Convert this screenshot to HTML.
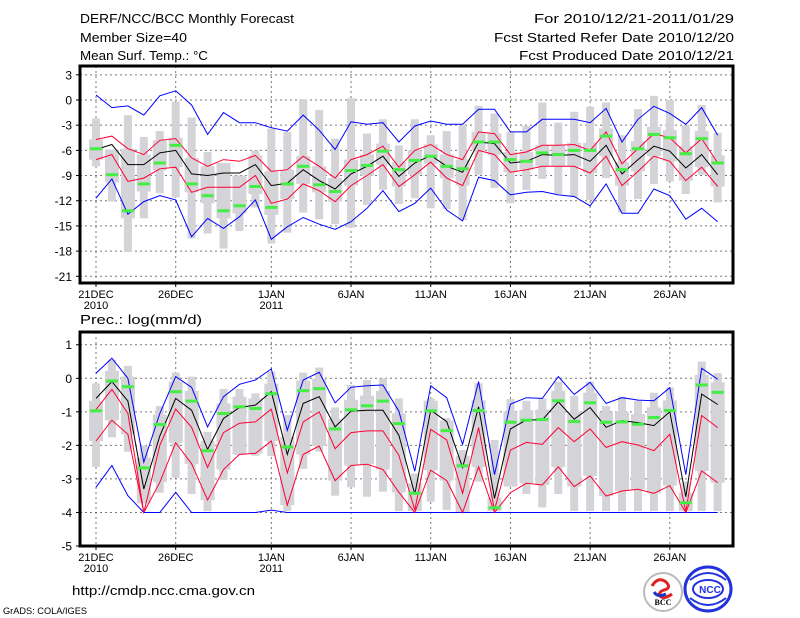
<!DOCTYPE html>
<html><head><meta charset="utf-8"><style>
body{margin:0;background:#fff;}
svg{display:block;font-family:"Liberation Sans",sans-serif;}
</style></head><body>
<svg id="chart" width="800" height="618" viewBox="0 0 800 618" xmlns="http://www.w3.org/2000/svg">
<g font-size="13" fill="#000">
<text x="80" y="23" textLength="214" lengthAdjust="spacingAndGlyphs">DERF/NCC/BCC Monthly Forecast</text>
<text x="80" y="42" textLength="107" lengthAdjust="spacingAndGlyphs">Member Size=40</text>
<text x="80" y="60" textLength="128" lengthAdjust="spacingAndGlyphs">Mean Surf. Temp.: °C</text>
<text x="734" y="23" text-anchor="end" textLength="200" lengthAdjust="spacingAndGlyphs">For 2010/12/21-2011/01/29</text>
<text x="734" y="42" text-anchor="end" textLength="240" lengthAdjust="spacingAndGlyphs">Fcst Started Refer Date 2010/12/20</text>
<text x="734" y="60" text-anchor="end" textLength="215" lengthAdjust="spacingAndGlyphs">Fcst Produced Date 2010/12/21</text>
<text x="80" y="324" textLength="122" lengthAdjust="spacingAndGlyphs">Prec.: log(mm/d)</text>
<text x="72" y="595" textLength="183" lengthAdjust="spacingAndGlyphs">http://cmdp.ncc.cma.gov.cn</text>
<text x="3" y="614" font-size="9" textLength="84" lengthAdjust="spacingAndGlyphs">GrADS: COLA/IGES</text>
</g>
<g>
<circle cx="663" cy="592" r="19" fill="#fff" stroke="#bbb" stroke-width="2"/>
<path d="M652 586 q6 -10 14 -4 q6 6 -2 8 q-6 2 -4 6 q4 4 12 -2" fill="none" stroke="#d22" stroke-width="3"/>
<path d="M654 592 q4 6 12 2" fill="none" stroke="#23b" stroke-width="3"/>
<text x="663" y="605" font-size="8" text-anchor="middle" font-family="Liberation Serif,serif" font-weight="bold">BCC</text>
</g>
<g>
<ellipse cx="708" cy="589" rx="23" ry="22" fill="#fff" stroke="#2233dd" stroke-width="3"/>
<ellipse cx="708" cy="589" rx="15" ry="9" fill="none" stroke="#2233dd" stroke-width="2"/>
<path d="M690 580 q18 -14 36 0 M690 598 q18 14 36 0" fill="none" stroke="#2233dd" stroke-width="2"/>
<text x="710" y="593" font-size="10" text-anchor="middle" fill="#2233dd" font-weight="bold">NCC</text>
</g>
<g id="p1"></g>
<g id="p2"></g>
</svg>
<script>
const dayLabels=["21DEC","26DEC","1JAN","6JAN","11JAN","16JAN","21JAN","26JAN"];
const dayLabelIdx=[0,5,11,16,21,26,31,36];
const yearLabels=["2010","2011"];
const yearLabelIdx=[0,11];
const tTicks=[3,0,-3,-6,-9,-12,-15,-18,-21];
const pTicks=[1,0,-1,-2,-3,-4,-5];
// temperature panel
const tMax=[0.6,-0.9,-0.7,-1.8,0.5,1.1,-0.6,-4.1,-1.5,-2.7,-2.7,-3.3,-3.7,-1.8,-3.6,-5.9,-2.6,-2.9,-2.7,-5.0,-3.1,-2.5,-2.9,-2.9,-1.1,-1.1,-3.8,-3.8,-2.3,-2.3,-2.3,-2.7,-1.0,-5.0,-2.3,-0.75,-1.6,-2.9,-0.9,-4.2];
const tRedHi=[-4.7,-4.3,-5.8,-6.5,-4.8,-4.6,-6.9,-7.9,-7.1,-7.3,-6.6,-8.5,-8.3,-6.7,-7.9,-9.3,-7.1,-6.5,-5.5,-8.0,-6.0,-5.3,-6.5,-7.1,-3.8,-4.0,-6.5,-6.2,-5.4,-5.4,-5.3,-6.0,-3.8,-7.6,-5.8,-4.0,-4.5,-6.3,-4.6,-7.5];
const tMean=[-5.9,-5.3,-7.7,-7.7,-6.3,-6.0,-8.8,-9.0,-8.7,-8.7,-7.7,-10.2,-9.9,-8.3,-9.6,-10.6,-8.8,-7.9,-6.7,-9.1,-7.5,-6.6,-7.9,-8.6,-5.0,-5.2,-7.5,-7.3,-6.5,-6.6,-6.5,-7.3,-5.4,-8.8,-7.1,-5.5,-6.1,-8.1,-6.5,-8.9];
const tRedLo=[-7.1,-6.5,-9.7,-9.3,-8.2,-8.0,-11.0,-10.4,-10.4,-10.4,-9.0,-12.3,-11.8,-10.0,-10.8,-12.1,-10.2,-9.0,-7.7,-10.3,-8.9,-7.4,-9.3,-10.2,-6.0,-6.5,-8.6,-8.3,-7.9,-7.9,-7.9,-8.7,-6.7,-10.2,-8.5,-6.7,-7.3,-9.6,-8.0,-10.3];
const tMin=[-11.7,-9.4,-13.6,-12.1,-11.4,-11.9,-16.3,-14.1,-15.3,-13.9,-11.9,-16.6,-15.1,-14.0,-14.8,-15.4,-14.5,-12.9,-10.8,-13.3,-12.3,-10.5,-13.1,-14.4,-9.2,-9.6,-11.3,-11.0,-10.9,-11.3,-11.5,-12.6,-10.0,-13.5,-13.5,-10.6,-11.4,-14.2,-12.9,-14.5];
const tObs=[-5.8,-8.9,-13.2,-10.0,-7.5,-5.4,-10.0,-11.4,-13.2,-12.6,-10.3,-12.8,-10.0,-7.9,-10.1,-10.9,-8.4,-7.8,-6.1,-8.3,-7.2,-6.7,-7.9,-8.2,-5.0,-5.0,-7.1,-7.3,-6.3,-6.5,-6.0,-6.0,-4.3,-8.3,-5.8,-4.1,-4.5,-6.4,-4.6,-7.5];
const tBarHi=[-2.2,-5.9,-1.8,-4.4,-3.7,-0.2,-2.1,-6.2,-7.5,-9.0,-6.0,-3.4,-3.8,0.1,-1.2,-4.6,0.2,-4.0,-2.3,-5.4,-2.3,-4.2,-3.7,-3.0,-0.7,-1.6,-3.8,-3.1,-0.3,-2.7,-1.4,-0.8,-0.3,-4.2,-1.1,0.5,0.0,-3.0,-0.6,-3.9];
const tBarLo=[-7.9,-12.1,-18.1,-14.1,-11.1,-11.6,-16.5,-15.9,-17.7,-15.6,-12.8,-17.1,-15.8,-13.4,-14.2,-14.8,-15.2,-12.5,-10.7,-12.4,-11.7,-12.9,-13.0,-14.3,-8.9,-10.5,-12.3,-10.7,-9.4,-11.2,-11.6,-11.9,-9.3,-13.4,-11.8,-10.0,-9.7,-11.2,-8.9,-12.2];
// precipitation panel
const pMax=[0.15,0.6,0,-2.5,-1.05,0.05,-0.27,-1.45,-0.55,-0.18,-0.05,0.28,-1.55,-0.05,0.18,-0.73,-0.27,-0.22,-0.2,-0.98,-2.77,-0.22,-0.58,-1.97,-0.1,-2.87,-0.77,-0.58,-0.6,0.05,-0.48,-0.12,-0.75,-0.58,-0.65,-0.67,-0.28,-2.87,0.3,-0.03];
const pRedHi=[-0.93,-0.33,-1.05,-4.0,-2.0,-0.92,-1.46,-2.66,-1.62,-1.34,-1.3,-0.92,-2.82,-1.3,-1.0,-2.1,-1.62,-1.57,-1.57,-2.3,-3.93,-1.52,-1.84,-3.43,-1.47,-3.93,-2.14,-1.91,-1.97,-1.47,-1.89,-1.51,-2.06,-1.89,-1.99,-2.16,-1.67,-3.98,-1.11,-1.47];
const pMean=[-0.6,-0.1,-0.68,-3.3,-1.72,-0.6,-0.95,-2.12,-1.2,-0.87,-0.8,-0.4,-2.27,-0.75,-0.55,-1.45,-0.98,-0.95,-0.95,-1.7,-3.46,-0.95,-1.29,-2.66,-0.85,-3.58,-1.51,-1.24,-1.24,-0.7,-1.22,-0.87,-1.46,-1.26,-1.32,-1.41,-1.0,-3.53,-0.47,-0.78];
const pRedLo=[-1.87,-1.25,-1.67,-4.0,-3.1,-1.92,-2.55,-3.63,-2.72,-2.27,-2.24,-1.87,-3.78,-2.27,-2.02,-3.05,-2.6,-2.56,-2.72,-3.4,-4.0,-2.74,-3.05,-4.0,-2.64,-4.0,-3.41,-3.13,-3.18,-2.64,-3.23,-2.91,-3.51,-3.36,-3.31,-3.43,-3.2,-4.0,-2.76,-3.11];
const pMin=[-3.25,-2.6,-3.5,-4,-4,-3.4,-4,-4,-4,-4,-4,-3.93,-4,-4,-4,-4,-4,-4,-4,-4,-4,-4,-4,-4,-4,-4,-4,-4,-4,-4,-4,-4,-4,-4,-4,-4,-4,-4,-4,-4];
const pObs=[-0.97,-0.08,-0.25,-2.67,-1.38,-0.4,-0.68,-2.16,-1.05,-0.85,-0.9,-0.46,-2.05,-0.37,-0.31,-1.51,-0.94,-0.82,-0.68,-1.35,-3.43,-0.97,-1.56,-2.61,-0.96,-3.86,-1.31,-1.25,-1.23,-0.67,-1.29,-0.73,-1.31,-1.3,-1.37,-1.17,-0.96,-3.71,-0.2,-0.42];
const pBarHi=[-0.15,0.55,0.37,-2.0,-0.83,0.17,0.05,-1.6,-0.32,-0.32,-0.45,0.2,-1.1,0.17,0.32,-0.87,-0.2,-0.05,0,-0.6,-2.84,-0.6,-1.19,-2.14,-0.15,-1.84,-0.62,-0.67,-0.6,-0.1,-0.52,-0.1,-0.83,-0.55,-0.67,-0.43,-0.27,-3.08,0.5,0.15];
const pBarLo=[-2.64,-1.76,-2.19,-3.73,-3.41,-2.96,-3.45,-3.96,-3.03,-2.29,-2.31,-2.32,-3.96,-2.7,-2.19,-3.5,-3.25,-3.53,-3.38,-3.96,-3.96,-3.68,-3.93,-4.0,-3.08,-3.96,-3.23,-3.45,-3.85,-3.45,-3.96,-3.96,-3.96,-3.96,-3.96,-3.96,-3.96,-3.96,-3.96,-3.96];

const NS="http://www.w3.org/2000/svg";
const X0=80,X1=733;
function xDay(i){return 96+i*15.94;}
function mk(parent,tag,attrs){const e=document.createElementNS(NS,tag);for(const k in attrs)e.setAttribute(k,attrs[k]);parent.appendChild(e);return e;}
function panel(g,top,bottom,vTop,vBot,ticks,tickStep,s){
  const yv=v=>top+(vTop-v)/(vTop-vBot)*(bottom-top);
  ticks.forEach(t=>{
    const l=mk(g,'line',{x1:X0,x2:X1,y1:yv(t),y2:yv(t),stroke:'#777','stroke-dasharray':'2,3','stroke-width':1});
    
    
    const tk=mk(g,'line',{x1:X0-4,x2:X0,y1:yv(t),y2:yv(t),stroke:'#000'});
    
    
    const tx=mk(g,'text',{x:X0-8,y:yv(t)+4.5,'text-anchor':'end','font-size':12});
    tx.textContent=t;
    
    
  });
  dayLabelIdx.forEach((d,k)=>{
    const x=xDay(d);
    const l=mk(g,'line',{x1:x,x2:x,y1:top,y2:bottom,stroke:'#777','stroke-dasharray':'2,3'});
    
    
    const tk=mk(g,'line',{x1:x,x2:x,y1:bottom,y2:bottom+4,stroke:'#000'});
    
    
    const tx=mk(g,'text',{x:x,y:bottom+15,'text-anchor':'middle','font-size':11});
    tx.textContent=dayLabels[k];
    
    
  });
  yearLabelIdx.forEach((d,k)=>{
    const tx=mk(g,'text',{x:xDay(d),y:bottom+26,'text-anchor':'middle','font-size':11});
    tx.textContent=yearLabels[k];
    
    
  });
  s.barHi.forEach((h,i)=>{
    const x=xDay(i);
    const b=mk(g,'rect',{x:x-4,y:yv(h),width:8,height:yv(s.barLo[i])-yv(h),fill:'#d3d3d8'});
    
    
    const hi=Math.max(s.redHi[i],s.obs[i]+0.3*tickStep),lo=Math.min(s.redLo[i],s.obs[i]-0.3*tickStep);
    const bx=mk(g,'rect',{x:x-7,y:yv(Math.min(hi,h)),width:14,height:yv(Math.max(lo,s.barLo[i]))-yv(Math.min(hi,h)),fill:'#d3d3d8'});
    
    
  });
  const line=(arr,col,name)=>{
    const p=mk(g,'polyline',{points:arr.map((v,i)=>xDay(i).toFixed(1)+','+yv(v).toFixed(1)).join(' '),fill:'none',stroke:col,'stroke-width':1});
    
    
  };
  line(s.max,'#0000ff','max-line');
  line(s.min,'#0000ff','min-line');
  line(s.redHi,'#ff0033','upper-percentile-line');
  line(s.redLo,'#ff0033','lower-percentile-line');
  line(s.mean,'#000','ensemble-mean-line');
  s.obs.forEach((v,i)=>{
    const r=mk(g,'rect',{x:xDay(i)-6,y:yv(v)-1.5,width:12,height:3,fill:'#44ee44'});
    
    
  });
  const f=mk(g,'rect',{x:X0,y:top,width:X1-X0,height:bottom-top,fill:'none',stroke:'#000','stroke-width':3});
  
  
}
panel(document.getElementById('p1'),66,283,4.05,-21.8,tTicks,3,{max:tMax,min:tMin,redHi:tRedHi,redLo:tRedLo,mean:tMean,obs:tObs,barHi:tBarHi,barLo:tBarLo});
panel(document.getElementById('p2'),332,546,1.38,-5.0,pTicks,1,{max:pMax,min:pMin,redHi:pRedHi,redLo:pRedLo,mean:pMean,obs:pObs,barHi:pBarHi,barLo:pBarLo});
</script>
</body></html>
